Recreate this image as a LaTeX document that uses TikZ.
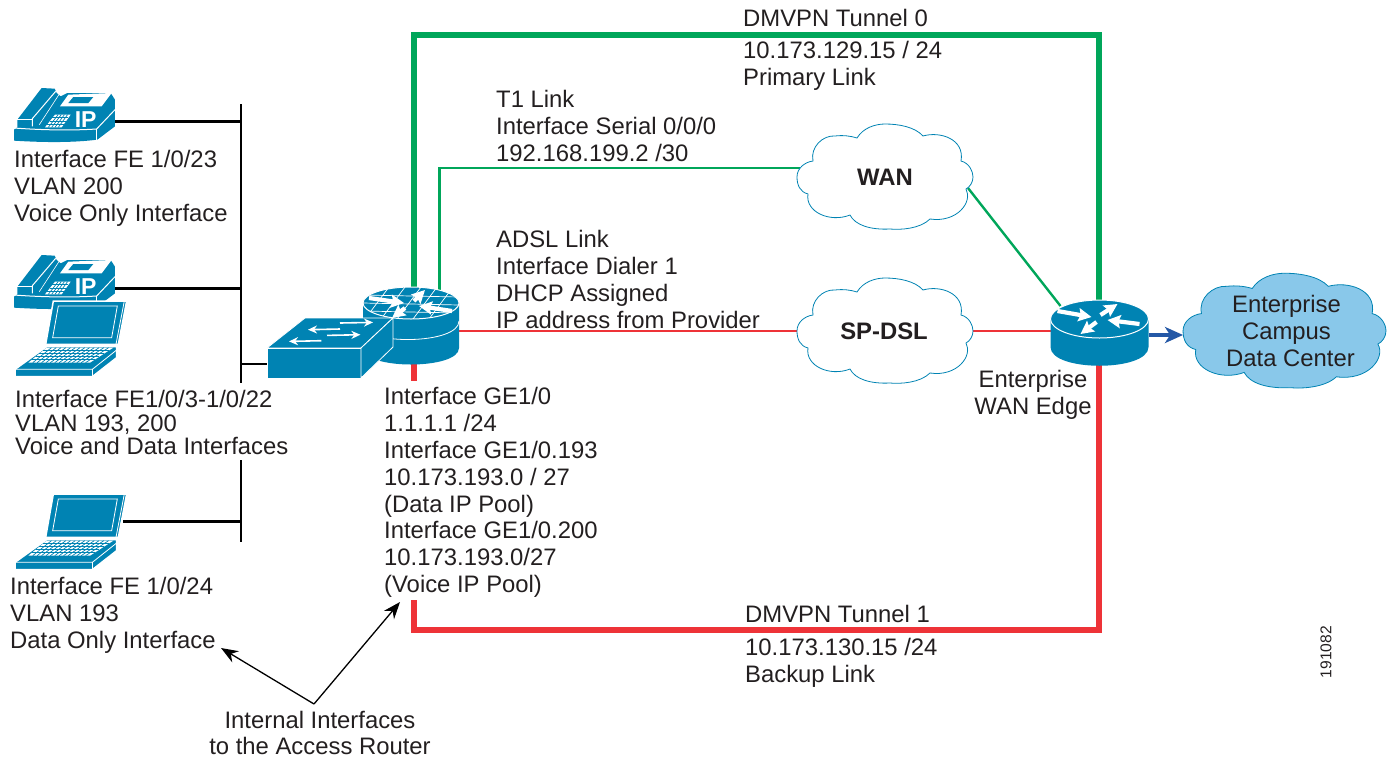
\documentclass[tikz,border=0pt]{standalone}
\usepackage{fontspec}
\setmainfont{Liberation Sans}
\usetikzlibrary{arrows.meta, backgrounds}

\definecolor{ciscoblue}{HTML}{0083B3}
\definecolor{lightcloud}{HTML}{89C8EA}
\definecolor{linkgreen}{HTML}{00A65A}
\definecolor{linkred}{HTML}{EE3338}
\definecolor{flowblue}{HTML}{2458A6}
\definecolor{inktext}{HTML}{231F20}

\tikzset{
  whitearrow/.style={white, line width=4.2pt, -{Stealth[length=13pt,width=13pt,inset=2pt]}},
  thinarrow/.style={white, line width=1.6pt, -{Stealth[length=9pt,width=8pt]}},
  pics/ipphone/.style={code={
    \fill [ciscoblue] (0,125) -- (10,118) -- (10,95) -- (83,0) -- (122,2) -- (128,15)
      -- (140,25) -- (160,15) -- (290,15) -- (303,35) -- (303,115) -- (250,155)
      .. controls (170,165) and (80,163) .. (0,158) -- cycle;
    \draw [white, line width=1pt] (55,115) -- (55,92) -- (125,10);
    \draw [white, line width=0.6pt] (76,110) -- (138,15);
    \draw [white, line width=1pt] (10,95) -- (53,95);
    \draw [white, line width=1pt] (0,120) .. controls (80,126) and (170,128) .. (248,123) -- (303,65);
    \draw [white, line width=1pt] (248,123) -- (248,155);
    \fill [white] (138,55) -- (163,20) -- (293,15) -- (263,55) -- cycle;
    \fill [ciscoblue] (163,45) -- (178,27) -- (238,27) -- (223,45) -- cycle;
    \fill [white] (93,118) -- (123,80) -- (170,80) -- (143,118) -- cycle;
    \foreach \t in {0.25, 0.5, 0.75}
      \draw [ciscoblue, line width=0.7pt] ({93+30*\t},{118-38*\t}) -- ({143+27*\t},{118-38*\t});
    \foreach \s in {0.2, 0.4, 0.6, 0.8}
      \draw [ciscoblue, line width=0.7pt] ({93+50*\s},118) -- ({123+47*\s},80);
    \node (-ip) at (215,94) {\fontsize{23}{23}\selectfont\bfseries\color{white}IP};
    \coordinate (-port) at (303,100);
  }},
  pics/laptop/.style={code={
    \draw [white, line width=1.5pt, fill=ciscoblue] (115,3) -- (335,3) -- (310,133) -- (92,133) -- cycle;
    \draw [white, line width=0.8pt] (130,18) -- (307,18) -- (290,113) -- (113,113) -- cycle;
    \draw [white, line width=0.8pt] (328,3) -- (303,133);
    \draw [white, line width=1.5pt, fill=ciscoblue] (95,140) -- (305,140) -- (305,173) -- (232,230)
      -- (0,230) -- (0,208) -- cycle;
    \draw [white, line width=0.8pt] (0,208) -- (232,208) -- (305,150);
    \draw [white, line width=0.8pt] (232,208) -- (232,230);
    \fill [white] (40,188) -- (95,143) -- (295,143) -- (225,188) -- cycle;
    \foreach \t in {0.2, 0.4, 0.6, 0.8}
      \draw [ciscoblue, line width=0.7pt] ({40+55*\t},{188-45*\t}) -- ({225+70*\t},{188-45*\t});
    \foreach \s in {1, ..., 13}
      \draw [ciscoblue, line width=0.7pt] ({40+185*\s/14},188) -- ({95+200*\s/14},143);
    \coordinate (-port) at (325,85);
  }},
  pics/netcloud/.style={code={
    \draw [ciscoblue, line width=0.8pt, fill=#1] (-88,0) .. controls (-88,-9) and (-80,-15) .. (-72,-16)
      .. controls (-75,-30) and (-62,-42) .. (-50,-41) .. controls (-42,-42) and (-34,-41) .. (-28,-39)
      .. controls (-22,-49) and (-10,-53) .. (0,-53) .. controls (14,-53) and (30,-50) .. (38,-41)
      .. controls (55,-46) and (80,-38) .. (76,-16)
      .. controls (84,-14) and (88,-6) .. (88,0) .. controls (88,5) and (85,10) .. (81,12)
      .. controls (88,25) and (72,46) .. (45,42)
      .. controls (35,52) and (15,53) .. (5,52) .. controls (-15,53) and (-30,48) .. (-35,38)
      .. controls (-55,46) and (-80,35) .. (-77,17)
      .. controls (-85,15) and (-88,8) .. (-88,0) -- cycle;
    \coordinate (-west) at (-88,0);
    \coordinate (-east) at (88,0);
    \coordinate (-in) at (-85,-9);
    \coordinate (-out) at (83,11);
  }},
  pics/edgerouter/.style={code={
    \fill [ciscoblue] (-49,0) -- (-49,28) .. controls (-49,53) and (49,53) .. (49,28)
      -- (49,0) -- cycle;
    \draw [white, line width=1pt, fill=ciscoblue] (0,0) ellipse [x radius=49, y radius=19];
    \draw [whitearrow] (-42,-8) -- (-8,-2);
    \draw [whitearrow] (1,-4) -- (18,-15);
    \draw [whitearrow] (40,5) -- (8,1);
    \draw [whitearrow] (-3,3) -- (-19,15);
    \coordinate (-up) at (-0.5,-19);
    \coordinate (-down) at (-0.5,46);
    \coordinate (-left) at (-49,12);
    \coordinate (-right) at (49.5,16);
    \coordinate (-corner) at (-39,-13);
  }},
  pics/accessrouter/.style={code={
    \fill [ciscoblue] (-48,0) -- (-48,45) .. controls (-48,67) and (48,67) .. (48,45)
      -- (48,0) -- cycle;
    \draw [white, line width=0.8pt] (-48,22) .. controls (-48,42) and (48,42) .. (48,18);
    \draw [white, line width=1pt, fill=ciscoblue] (0,0) ellipse [x radius=48, y radius=16];
    \begin{scope}
      \clip (0,0) ellipse [x radius=48, y radius=16];
      \foreach \n in {-8, 0, 8}
        \draw [white, line width=0.7pt] (-48,\n) -- (48,\n+2);
      \foreach \n in {-30, -14, 2, 18, 34}
        \draw [white, line width=0.7pt] (\n+8,-16) -- (\n-16,16);
    \end{scope}
    \draw [whitearrow] (-42,-5) -- (-7,0);
    \draw [whitearrow] (3,-2) -- (14,-13);
    \draw [whitearrow] (41,8) -- (8,3);
    \draw [whitearrow] (-6,5) -- (-19,15);
    \coordinate (-up) at (3,-14);
    \coordinate (-upthin) at (28.5,-12);
    \coordinate (-down) at (3,61);
    \coordinate (-right) at (48,28);
  }},
  pics/accessswitch/.style={code={
    \draw [white, line width=0.8pt, fill=ciscoblue] (0,30) -- (38,0) -- (126,0) -- (94,30) -- cycle;
    \draw [white, line width=0.8pt, fill=ciscoblue] (0,30) rectangle (94,60);
    \draw [white, line width=0.8pt, fill=ciscoblue] (94,30) -- (126,0) -- (126,29) -- (94,60) -- cycle;
    \draw [thinarrow] (73,5) -- (106,4.4);
    \draw [thinarrow] (73,11) -- (41,11.7);
    \draw [thinarrow] (60,17.4) -- (93.4,16.7);
    \draw [thinarrow] (54.4,22.7) -- (22,23.4);
    \coordinate (-port) at (0,46);
  }}
}

\begin{document}
\begin{tikzpicture}[x=1pt, y=-1pt, inktext, font=\fontsize{23.85}{26.9}\selectfont]
    \tikzstyle{txt} = [align=left, anchor=north west, inner sep=0pt, text=inktext]
    \tikzstyle{ctxt} = [align=center, inner sep=0pt, text=inktext]
    \tikzstyle{lanline} = [black, line width=2.6pt]
    \tikzstyle{thinlink} = [line width=2.4pt]
    \tikzstyle{tunnel} = [line width=5.2pt]
    \tikzstyle{callout} = [black, line width=1.3pt, -{Stealth[length=17pt,width=13pt]}]

    \useasboundingbox (0, 0) rectangle (1392, 761);

    \pic (phoneone) [scale=0.3333] at (14, 88) {ipphone};
    \pic (phonetwo) [scale=0.3333] at (14, 255) {ipphone};
    \pic (laptopone) [scale=0.3333] at (15, 300) {laptop};
    \pic (laptoptwo) [scale=0.3333] at (15, 493) {laptop};

    \pic (wan) at (885, 177) {netcloud=white};
    \pic (spdsl) at (885, 331) {netcloud=white};
    \pic (campus) [xscale=1.153, yscale=1.09] at (1284.5, 331) {netcloud=lightcloud};

    \pic (accessrtr) at (411, 303) {accessrouter};
    \pic (switch) at (267, 318) {accessswitch};
    \pic (edgertr) at (1099.5, 319) {edgerouter};

    \coordinate (bustop) at (241, 104);
    \coordinate (busgap) at (241, 383);
    \coordinate (busresume) at (241, 460);
    \coordinate (busend) at (241, 542);
    \coordinate (tunnelnw) at (414, 35);
    \coordinate (tunnelne) at (1099, 35);
    \coordinate (backupstart) at (414, 600);
    \coordinate (backupsw) at (414, 630);
    \coordinate (backupse) at (1099, 630);
    \coordinate (stubend) at (414, 381);
    \coordinate (calloutfoot) at (314, 704);
    \coordinate (calloutleft) at (221, 648);
    \coordinate (calloutright) at (400, 602);

    \begin{scope}[on background layer]
      \draw [lanline] (bustop) -- (busgap);
      \draw [lanline] (busresume) -- (busend);
      \draw [lanline] (phoneone-port) -- (phoneone-port -| bustop);
      \draw [lanline] (phonetwo-port) -- (phonetwo-port -| bustop);
      \draw [lanline] (laptoptwo-port) -- (laptoptwo-port -| bustop);
      \draw [lanline] (switch-port) -- (switch-port -| bustop);

      \draw [tunnel, linkgreen] (accessrtr-up) -- (tunnelnw) -- (tunnelne) -- (edgertr-up);
      \draw [tunnel, linkred] (backupstart) -- (backupsw) -- (backupse) -- (edgertr-down);
      \draw [tunnel, linkred] (accessrtr-down) -- (stubend);

      \draw [thinlink, linkgreen] (accessrtr-upthin) |- (wan-in);
      \draw [thinlink, linkgreen] (wan-out) -- (edgertr-corner);
      \draw [thinlink, linkred] (accessrtr-right) -- (spdsl-west);
      \draw [thinlink, linkred] (spdsl-east) -- (edgertr-left);
    \end{scope}

    \draw [flowblue, line width=4pt, -{Stealth[length=18pt,width=16pt,inset=5pt]}] (edgertr-right) -- (edgertr-right -| campus-west);
    \draw [callout] (calloutfoot) -- (calloutleft);
    \draw [callout] (calloutfoot) -- (calloutright);

    \node (phoneonetext) [txt] at (14, 150) {Interface FE 1/0/23\\VLAN 200\\Voice Only Interface};
    \node (phonetwotext) [txt, font=\fontsize{23.85}{23.6}\selectfont] at (15, 390) {Interface FE1/0/3-1/0/22\\VLAN 193, 200\\Voice and Data Interfaces};
    \node (laptoptext) [txt] at (10, 577) {Interface FE 1/0/24\\VLAN 193\\Data Only Interface};
    \node (gigtext) [txt] at (384, 387) {Interface GE1/0\\1.1.1.1 /24\\Interface GE1/0.193\\10.173.193.0 / 27\\(Data IP Pool)\\Interface GE1/0.200\\10.173.193.0/27\\(Voice IP Pool)};
    \node (tonetext) [txt] at (496, 90) {T1 Link\\Interface Serial 0/0/0\\192.168.199.2 /30};
    \node (adsltext) [txt] at (496, 230) {ADSL Link\\Interface Dialer 1\\DHCP Assigned\\IP address from Provider};
    \node (tunnelzero) [txt] at (743, 9) {DMVPN Tunnel 0};
    \node (primarytext) [txt] at (743, 41) {10.173.129.15 / 24\\Primary Link};
    \node (tunnelone) [txt] at (745, 605) {DMVPN Tunnel 1};
    \node (backuptext) [txt] at (745, 638) {10.173.130.15 /24\\Backup Link};

    \node (internaltext) [ctxt] at (320, 733) {Internal Interfaces\\to the Access Router};
    \node (edgetext) [ctxt] at (1033, 394.5) {Enterprise\\WAN Edge};
    \node (campustext) [ctxt] at (1286.5, 331) {Enterprise\\Campus\\\hspace*{8pt}Data Center};
    \node (wantext) [ctxt] at (885, 177) {\bfseries WAN};
    \node (spdsltext) [ctxt] at (884, 331) {\bfseries SP-DSL};
    \node (figid) [ctxt, rotate=90] at (1326, 652) {\fontsize{15.6}{16}\selectfont 191082};
\end{tikzpicture}
\end{document}
